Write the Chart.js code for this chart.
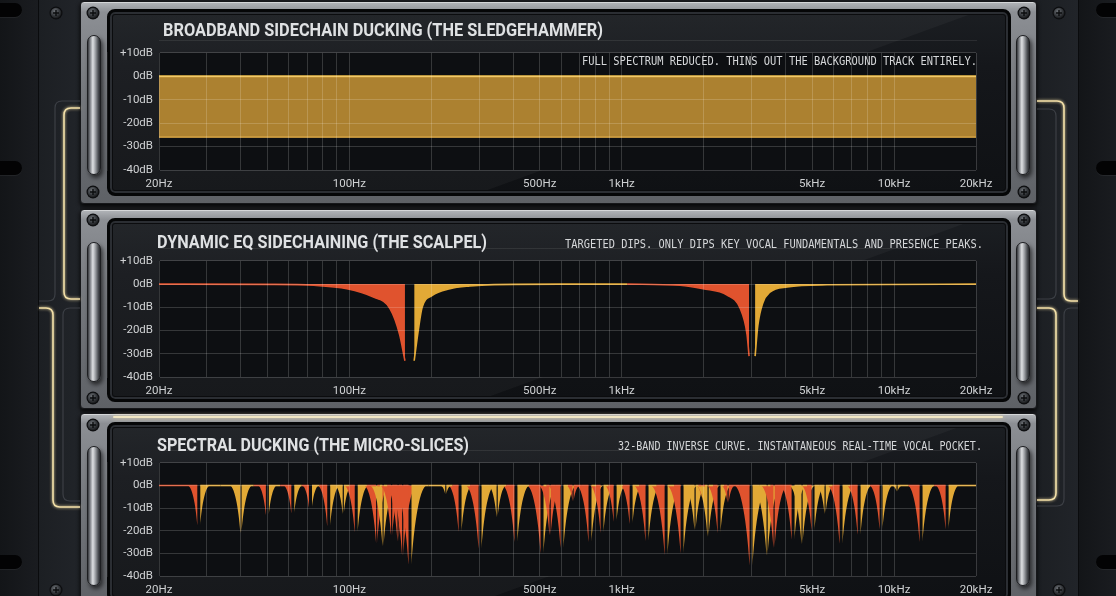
<!DOCTYPE html>
<html>
<head>
<meta charset="utf-8">
<title>Sidechain ducking – three approaches</title>
<script src="https://cdn.jsdelivr.net/npm/chart.js@4.4.1/dist/chart.umd.min.js"></script>
<style>
html, body { margin: 0; padding: 0; }
body { width: 1116px; height: 596px; overflow: hidden; position: relative; background: #1b1d21; font-family: Roboto, sans-serif; }
.rail { position: absolute; top: 0; width: 38px; height: 596px; background: linear-gradient(90deg, #131518, #1a1c20); }
.rail.l { left: 0; border-right: 1px solid #0a0b0d; }
.rail.r { left: 1078px; border-left: 1px solid #0a0b0d; }
.hole { position: absolute; width: 34px; height: 14px; border-radius: 7px; background: #030304; box-shadow: 0 1px 0 rgba(255,255,255,.06); }
.rail.l .hole { left: -12px; }
.rail.r .hole { left: 17px; }
.ear { position: absolute; top: 0; height: 596px; background: linear-gradient(90deg, #1c1f23, #212429); }
.unit { position: absolute; left: 80px; width: 957px; box-sizing: border-box; border-radius: 4px; border: 1px solid #16171a;
  background: linear-gradient(180deg, #b3b6ba 0%, #8c8f94 5%, #75787d 45%, #5e6166 100%);
  box-shadow: 0 2px 4px rgba(0,0,0,.85), inset 0 1px 0 rgba(255,255,255,.45); }
.screen { position: absolute; left: 107px; width: 904px; box-sizing: border-box; border-radius: 8px; border: 3px solid #050607;
  background: linear-gradient(160deg, rgba(255,255,255,.035) 0%, rgba(255,255,255,.035) 62%, rgba(255,255,255,0) 62.2%),
              linear-gradient(180deg, #1b1e22 0%, #15171b 30%, #0f1114 100%);
  box-shadow: inset 0 0 0 2px #2b2e33, inset 0 0 0 3px #0b0c0e; }
.handle { position: absolute; width: 14px; height: 140px; box-sizing: border-box; border-radius: 7px; border: 1px solid #1d1e21;
  background: linear-gradient(90deg, #35373b 0%, #7f8287 18%, #dfe1e3 40%, #a2a5a9 60%, #4d5054 85%, #2a2c2f 100%);
  box-shadow: 2px 3px 4px rgba(0,0,0,.6); }
.glowline { position: absolute; height: 2px; background: #f1e6c2; box-shadow: 0 0 4px rgba(240,215,150,.8); border-radius: 1px; }
canvas { position: absolute; }
.title { position: absolute; font: 700 18px Roboto, sans-serif; line-height: 18px; color: #dfe1e3; white-space: nowrap; transform-origin: 0 0; }
.sub { position: absolute; font: 12px "DejaVu Sans Mono", monospace; line-height: 12px; color: #d5d7d9; white-space: nowrap; transform-origin: 0 0; }
#deco { position: absolute; left: 0; top: 0; z-index: 3; }
</style>
</head>
<body>

<div class="rail l"><div class="hole" style="top:3px"></div><div class="hole" style="top:161px"></div><div class="hole" style="top:555px"></div></div>
<div class="rail r"><div class="hole" style="top:3px"></div><div class="hole" style="top:161px"></div><div class="hole" style="top:555px"></div></div>
<div class="ear" style="left:39px;width:41px"></div>
<div class="ear" style="left:1037px;width:41px"></div>

<div class="unit" style="top:1px;height:203px"></div>
<div class="unit" style="top:209px;height:200px"></div>
<div class="unit" style="top:413px;height:192px"></div>
<div class="glowline" style="left:113px;top:416px;width:890px"></div>

<div class="handle" style="left:87px;top:35px"></div>
<div class="handle" style="left:1016px;top:35px"></div>
<div class="handle" style="left:87px;top:242px"></div>
<div class="handle" style="left:1016px;top:242px"></div>
<div class="handle" style="left:87px;top:446px"></div>
<div class="handle" style="left:1016px;top:446px"></div>

<div class="screen" style="top:9px;height:187px"></div>
<div class="screen" style="top:218px;height:184px"></div>
<div class="screen" style="top:422px;height:180px"></div>

<canvas id="c1" width="904" height="156" style="left:107px;top:40px"></canvas>
<canvas id="c2" width="904" height="155" style="left:107px;top:248px"></canvas>
<canvas id="c3" width="904" height="152" style="left:107px;top:450px"></canvas>

<div class="title fit" data-w="440" style="left:163px;top:21px">BROADBAND SIDECHAIN DUCKING (THE SLEDGEHAMMER)</div>
<div class="sub fit" data-w="395" style="left:582px;top:55px">FULL SPECTRUM REDUCED. THINS OUT THE BACKGROUND TRACK ENTIRELY.</div>
<div class="title fit" data-w="330" style="left:157px;top:233px">DYNAMIC EQ SIDECHAINING (THE SCALPEL)</div>
<div class="sub fit" data-w="418" style="left:565px;top:238px">TARGETED DIPS. ONLY DIPS KEY VOCAL FUNDAMENTALS AND PRESENCE PEAKS.</div>
<div class="title fit" data-w="312" style="left:157px;top:436px">SPECTRAL DUCKING (THE MICRO-SLICES)</div>
<div class="sub fit" data-w="364" style="left:618px;top:440px">32-BAND INVERSE CURVE. INSTANTANEOUS REAL-TIME VOCAL POCKET.</div>

<svg id="deco" width="1116" height="596">
  <defs>
    <radialGradient id="sg" cx="40%" cy="35%" r="70%">
      <stop offset="0" stop-color="#6e7277"/><stop offset="0.6" stop-color="#34373b"/><stop offset="1" stop-color="#141517"/>
    </radialGradient>
    <filter id="glow" x="-50%" y="-50%" width="200%" height="200%">
      <feGaussianBlur stdDeviation="1.6" result="b"/>
      <feMerge><feMergeNode in="b"/><feMergeNode in="SourceGraphic"/></feMerge>
    </filter>
    <g id="screw"><circle r="6.5" fill="#0c0d0f"/><circle r="5.3" fill="url(#sg)"/><path d="M-3,0H3M0,-3V3" stroke="#0b0c0e" stroke-width="1.4"/></g>
  </defs>
  <g fill="none" stroke="#3c3f45" stroke-width="1.2">
    <path d="M80,101 H62 Q55,101 55,108 V294 Q55,301 48,301 H39"/>
    <path d="M80,308 H70 Q63,308 63,315 V494 Q63,501 70,501 H80"/>
    <path d="M1037,109 H1049 Q1056,109 1056,116 V292 Q1056,299 1049,299 H1037"/>
    <path d="M1078,308 H1071 Q1064,308 1064,315 V499 Q1064,506 1057,506 H1037"/>
  </g>
  <g fill="none" stroke="#f3e0a8" stroke-width="1.6" filter="url(#glow)">
    <path d="M80,108 H71 Q64,108 64,115 V292 Q64,299 71,299 H80"/>
    <path d="M39,308 H46 Q53,308 53,315 V500 Q53,507 60,507 H80"/>
    <path d="M1037,101 H1057 Q1064,101 1064,108 V294 Q1064,301 1071,301 H1078"/>
    <path d="M1037,308 H1049 Q1056,308 1056,315 V493 Q1056,500 1049,500 H1037"/>
  </g>
  <use href="#screw" x="56" y="13"/><use href="#screw" x="56" y="590"/>
  <use href="#screw" x="1059" y="13"/><use href="#screw" x="1059" y="590"/>
  <use href="#screw" x="93" y="13"/><use href="#screw" x="93" y="192"/>
  <use href="#screw" x="1024" y="13"/><use href="#screw" x="1024" y="192"/>
  <use href="#screw" x="93" y="220"/><use href="#screw" x="93" y="398"/>
  <use href="#screw" x="1024" y="220"/><use href="#screw" x="1024" y="398"/>
  <use href="#screw" x="93" y="425"/><use href="#screw" x="1024" y="425"/>
</svg>

<script>
// 频率网格与刻度
const gridHz = [20, 30, 40, 50, 60, 70, 80, 90, 100, 200, 300, 400, 500, 600, 700, 800, 900,
  1000, 2000, 3000, 4000, 5000, 6000, 7000, 8000, 9000, 10000, 20000];
const xTickHz = [20, 100, 500, 1000, 5000, 10000, 20000];
const xTickText = ['20Hz', '100Hz', '500Hz', '1kHz', '5kHz', '10kHz', '20kHz'];
const yTickDb = [10, 0, -10, -20, -30, -40];
const yTickText = ['+10dB', '0dB', '-10dB', '-20dB', '-30dB', '-40dB'];

// 1: broadband ducking
const duckHz = [20, 20000];
const duckTopDb = [0, 0];
const duckFloorDb = [-26, -26];

// 2: dynamic EQ, two dips (red = falling side, gold = rising side)
const eqCutAHz = [20, 50, 74, 98, 122, 141, 153, 160];
const eqCutADb = [0, -0.1, -0.5, -2, -5.5, -10.5, -21.7, -33];
const eqRiseAHz = [173, 179, 185, 201, 234, 277, 340, 594, 1047];
const eqRiseADb = [-33, -20, -10, -5, -2, -0.8, -0.2, 0, 0];
const eqCutBHz = [1047, 1638, 1990, 2438, 2722, 2886, 2936];
const eqCutBDb = [0, -0.5, -2, -4.7, -10.4, -21.6, -31];
const eqRiseBHz = [3090, 3160, 3300, 3500, 4050, 5680, 20000];
const eqRiseBDb = [-31, -18, -8, -3.5, -1.2, -0.3, 0];

// 3: spectral micro-slices (notch centre, depth, colour: s = red/gold split, r = red, y = gold)
const sliceHz = [28, 40, 50, 62, 72, 84, 95, 106, 126, 133, 143, 151, 157, 167, 226, 255, 302, 349,
  409, 510, 546, 604, 663, 765, 847, 946, 1083, 1239, 1456, 1666, 1860, 1973, 2076, 2278, 2458,
  2986, 3420, 3627, 4260, 4596, 5043, 5584, 6392, 7444, 8964, 10262, 12570, 15666];
const sliceDb = [-17.6, -21, -13, -12.3, -9.7, -18, -12.6, -20.7, -25.4, -26.9, -22, -24.7, -31, -35,
  -3.7, -20.4, -28, -14, -25, -30, -22, -27.6, -6.9, -25, -21, -16, -17, -24.5, -30.7, -30, -19.7,
  -5.4, -22.6, -21, -7.6, -35.4, -31, -27.6, -24, -26, -20, -12.6, -25.7, -21.8, -19.3, -2.6, -25, -19.3];
const sliceTone = ['s', 'y', 's', 's', 's', 's', 'y', 's', 'r', 'y', 'r', 'r', 'r', 's', 'y', 's', 's', 'y',
  's', 's', 'r', 's', 'r', 's', 's', 's', 's', 's', 's', 's', 'y', 'r', 'y', 's', 'r',
  's', 'y', 'r', 's', 'y', 's', 'y', 's', 's', 's', 'y', 's', 's'];

const RED = '#e0532e';
const GOLD = '#e2a936';
const GRID = 'rgba(255,255,255,0.17)';
const LABEL = '#cfd1d3';

Chart.defaults.font.family = 'Roboto, sans-serif';
Chart.defaults.animation = false;

const pts = (hz, db) => hz.map((f, i) => ({ x: f, y: db[i] }));

function makeScales() {
  return {
    x: {
      type: 'logarithmic', min: 20, max: 20000,
      afterBuildTicks: s => { s.ticks = gridHz.map(v => ({ value: v })); },
      afterFit: s => { s.height = 26; },
      ticks: {
        autoSkip: false, maxRotation: 0, padding: 7, color: LABEL, font: { size: 11.5 },
        callback: v => { const i = xTickHz.indexOf(v); return i < 0 ? '' : xTickText[i]; }
      },
      grid: { color: GRID, drawTicks: false, z: 1 },
      border: { color: GRID }
    },
    y: {
      min: -40, max: 10,
      afterBuildTicks: s => { s.ticks = yTickDb.map(v => ({ value: v })); },
      afterFit: s => { s.width = 52; },
      ticks: {
        padding: 6, color: LABEL, font: { size: 11.5 },
        callback: v => yTickText[yTickDb.indexOf(v)]
      },
      grid: { color: GRID, drawTicks: false, z: 1 },
      border: { color: GRID }
    }
  };
}

// 绘图区背景
const plotBg = {
  id: 'plotBg',
  beforeDraw(chart) {
    const { ctx, chartArea: a } = chart;
    ctx.save();
    ctx.fillStyle = '#0d0f12';
    ctx.fillRect(a.left, a.top, a.right - a.left, a.bottom - a.top);
    ctx.restore();
  }
};

// 频谱切片：每个凹口左侧下降、右侧回升
const notchPlugin = {
  id: 'notches',
  afterDatasetsDraw(chart) {
    const { ctx, chartArea: a, scales: { x, y } } = chart;
    const data = chart.data.datasets[0].data;
    const y0 = y.getPixelForValue(0);
    ctx.save();
    ctx.beginPath();
    ctx.rect(a.left, a.top, a.right - a.left, a.bottom - a.top);
    ctx.clip();

    const flank = (px, py, dir, w, color) => {
      ctx.beginPath();
      ctx.moveTo(px, y0);
      ctx.lineTo(px, py);
      ctx.bezierCurveTo(px + dir * w * 0.1, py - (py - y0) * 0.35, px + dir * w * 0.45, y0, px + dir * w, y0);
      ctx.closePath();
      ctx.fillStyle = color;
      ctx.fill();
    };
    const line = (x1, x2, color) => {
      if (x2 <= x1) return;
      ctx.beginPath();
      ctx.moveTo(x1, y0);
      ctx.lineTo(x2, y0);
      ctx.strokeStyle = color;
      ctx.lineWidth = 1.6;
      ctx.stroke();
    };

    const info = data.map((p, i) => {
      const t = sliceTone[i];
      return {
        px: x.getPixelForValue(p.x), py: y.getPixelForValue(p.y),
        w: 4 + 0.33 * Math.abs(p.y), g: t === 's' ? 1.5 : 0.6,
        lc: t === 'y' ? GOLD : RED, rc: t === 'r' ? RED : GOLD
      };
    });

    info.forEach(n => {
      flank(n.px - n.g, n.py, -1, n.w, n.lc);
      flank(n.px + n.g, n.py, 1, n.w, n.rc);
    });

    let prevX = a.left, prevC = null;
    info.forEach(n => {
      const end = n.px - n.g;
      const mid = prevC ? (prevX + end) / 2 : prevX;
      if (prevC) line(prevX, mid, prevC);
      line(mid, end, n.lc);
      prevX = n.px + n.g;
      prevC = n.rc;
    });
    line(prevX, a.right, prevC);
    ctx.restore();
  }
};

const baseOptions = () => ({
  responsive: false,
  devicePixelRatio: 1,
  layout: { padding: { left: 0, right: 35, top: 10, bottom: 0 } },
  plugins: { legend: { display: false }, tooltip: { enabled: false } },
  scales: makeScales()
});

new Chart(document.getElementById('c1'), {
  type: 'line',
  data: {
    datasets: [
      { data: pts(duckHz, duckTopDb), borderColor: '#f0c04c', borderWidth: 2, pointRadius: 0, fill: false },
      { data: pts(duckHz, duckFloorDb), borderColor: '#e4b04a', borderWidth: 1.2, pointRadius: 0,
        fill: '-1', backgroundColor: 'rgba(190,142,52,0.9)' }
    ]
  },
  options: baseOptions(),
  plugins: [plotBg]
});

const eqSet = (hz, db, color) => ({
  data: pts(hz, db), borderColor: color, backgroundColor: color, borderWidth: 1.6,
  pointRadius: 0, fill: { value: 0 }, cubicInterpolationMode: 'monotone'
});

new Chart(document.getElementById('c2'), {
  type: 'line',
  data: {
    datasets: [
      eqSet(eqCutAHz, eqCutADb, RED),
      eqSet(eqRiseAHz, eqRiseADb, GOLD),
      eqSet(eqCutBHz, eqCutBDb, RED),
      eqSet(eqRiseBHz, eqRiseBDb, GOLD)
    ]
  },
  options: baseOptions(),
  plugins: [plotBg]
});

new Chart(document.getElementById('c3'), {
  type: 'line',
  data: {
    datasets: [{ data: pts(sliceHz, sliceDb), showLine: false, pointRadius: 0 }]
  },
  options: baseOptions(),
  plugins: [plotBg, notchPlugin]
});

// 标题按目标宽度横向压缩
document.querySelectorAll('.fit').forEach(el => {
  const w = el.getBoundingClientRect().width;
  el.style.transform = `scaleX(${el.dataset.w / w})`;
});
</script>
</body>
</html>
